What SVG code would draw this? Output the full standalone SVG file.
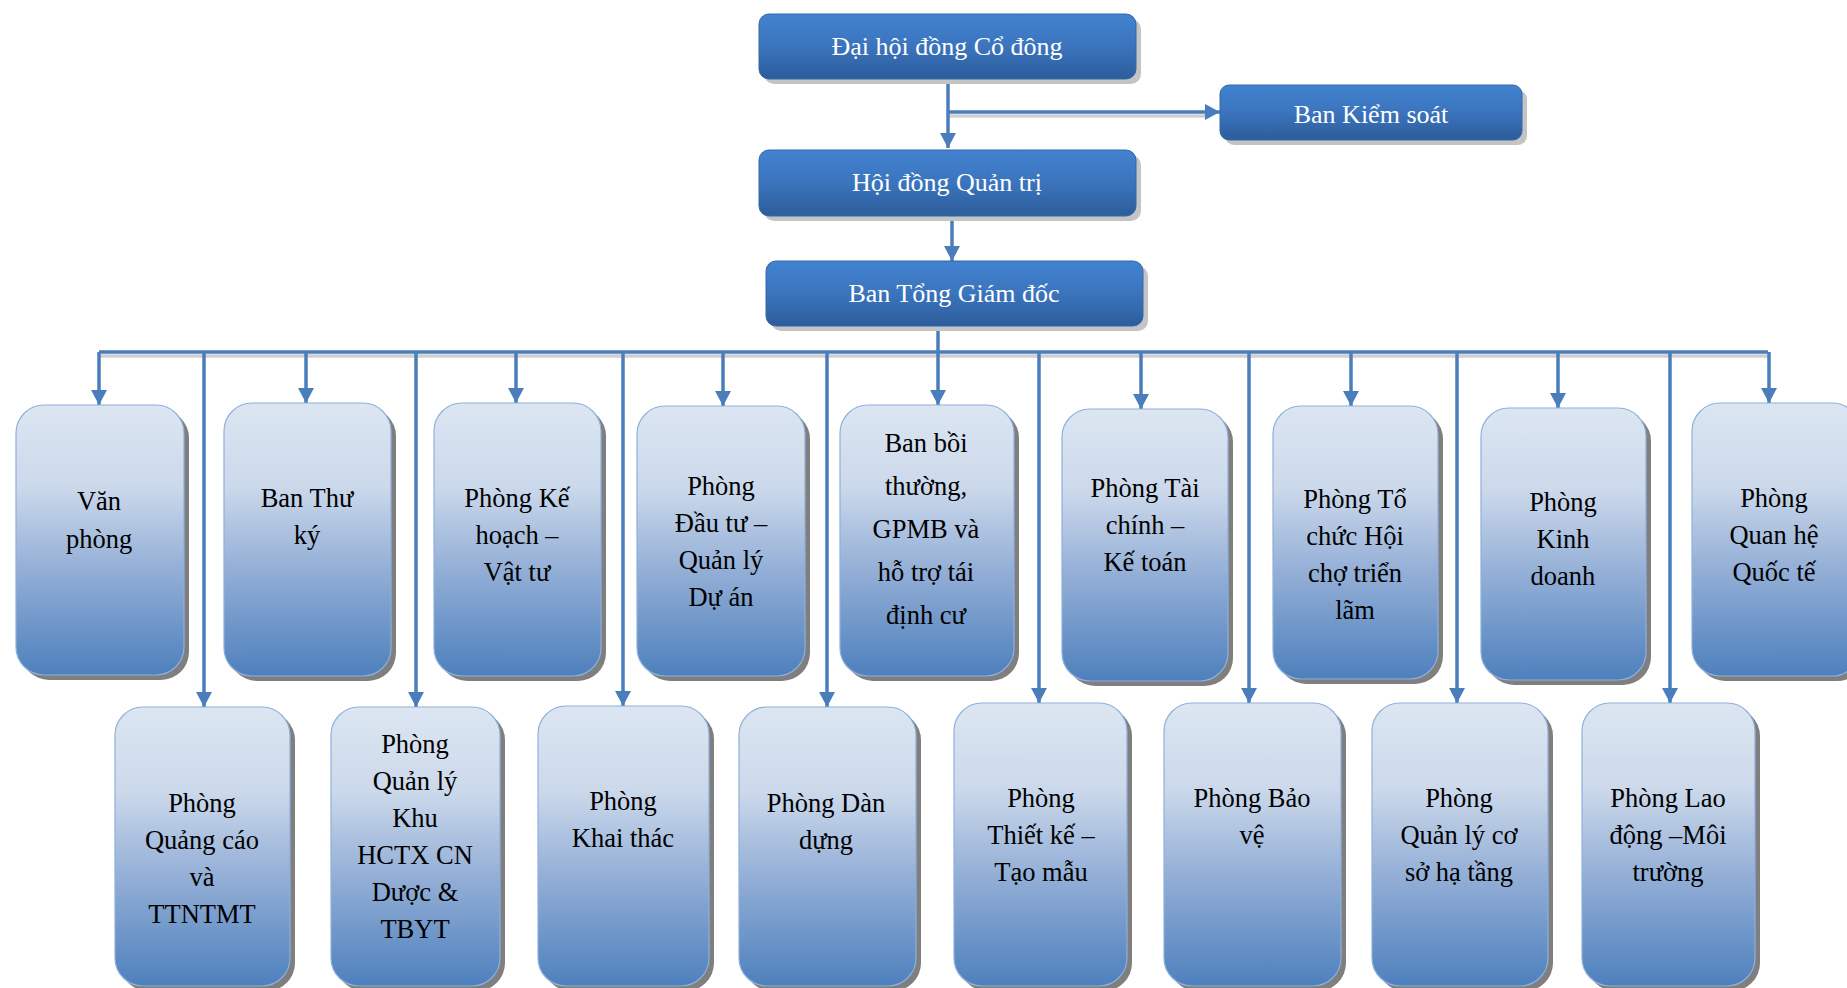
<svg xmlns="http://www.w3.org/2000/svg" width="1847" height="988" viewBox="0 0 1847 988" font-family="Liberation Serif, Times New Roman, DejaVu Serif, serif">
<defs>
<linearGradient id="gTop" x1="0" y1="0" x2="0" y2="1">
<stop offset="0" stop-color="#4282d0"/>
<stop offset="0.5" stop-color="#3b74bd"/>
<stop offset="1" stop-color="#2c5c9b"/>
</linearGradient>
<linearGradient id="gDept" x1="0" y1="0" x2="0" y2="1">
<stop offset="0" stop-color="#dce6f2"/>
<stop offset="0.3" stop-color="#ccd9eb"/>
<stop offset="0.6" stop-color="#95b0d7"/>
<stop offset="1" stop-color="#4e80bd"/>
</linearGradient>
<marker id="arr" markerUnits="userSpaceOnUse" markerWidth="16" markerHeight="16" refX="15" refY="8" orient="auto" viewBox="0 0 16 16">
<path d="M0,0 L15,8 L0,16 Z" fill="#4a7ebb"/>
</marker>
</defs>
<style>
text{font-family:'Liberation Serif','Times New Roman','DejaVu Serif',serif}
.top rect.b{fill:url(#gTop);stroke:#3568a8;stroke-width:1}
.top rect.s{fill:#c4c4c4}
.top text{fill:#ffffff;font-size:26px;text-anchor:middle}
.dept rect.b{fill:url(#gDept);stroke:#8eb0dc;stroke-width:1.2}
.dept rect.s{fill:#7f7f7f}
.dept text{fill:#000000;font-size:26.5px;text-anchor:middle}
.ln{fill:none;stroke:#4a7ebb;stroke-width:3.5}
.sh{fill:none;stroke:#d0d0d0;stroke-width:3.5}
</style>

<g id="connectors-shadow" transform="translate(1,4)">
<path class="sh" d="M948,112 H1205"/>
<path class="sh" d="M99,352 H1768"/>
</g>
<g id="connectors">
<path class="ln" d="M948,79 V148" marker-end="url(#arr)"/>
<path class="ln" d="M948,112 H1220" marker-end="url(#arr)"/>
<path class="ln" d="M952,216 V261" marker-end="url(#arr)"/>
<path class="ln" d="M938,326 V352"/>
<path class="ln" d="M99,352 H1768"/>
<path class="ln" d="M99,352 V405" marker-end="url(#arr)"/>
<path class="ln" d="M306,352 V403" marker-end="url(#arr)"/>
<path class="ln" d="M516,352 V403" marker-end="url(#arr)"/>
<path class="ln" d="M723,352 V406" marker-end="url(#arr)"/>
<path class="ln" d="M938,352 V405" marker-end="url(#arr)"/>
<path class="ln" d="M1141,352 V409" marker-end="url(#arr)"/>
<path class="ln" d="M1351,352 V406" marker-end="url(#arr)"/>
<path class="ln" d="M1558,352 V408" marker-end="url(#arr)"/>
<path class="ln" d="M1769,352 V403" marker-end="url(#arr)"/>
<path class="ln" d="M204,352 V707" marker-end="url(#arr)"/>
<path class="ln" d="M416,352 V707" marker-end="url(#arr)"/>
<path class="ln" d="M623,352 V706" marker-end="url(#arr)"/>
<path class="ln" d="M827,352 V707" marker-end="url(#arr)"/>
<path class="ln" d="M1039,352 V703" marker-end="url(#arr)"/>
<path class="ln" d="M1249,352 V703" marker-end="url(#arr)"/>
<path class="ln" d="M1457,352 V703" marker-end="url(#arr)"/>
<path class="ln" d="M1670,352 V703" marker-end="url(#arr)"/>
</g>

<g id="dhdcd" class="top">
<rect class="s" x="764" y="19" width="377" height="65" rx="10"/>
<rect class="b" x="759" y="14" width="377" height="65" rx="10"/>
<text x="947" y="55">Đại hội đồng Cổ đông</text>
</g>
<g id="bks" class="top">
<rect class="s" x="1225" y="90" width="302" height="55" rx="9"/>
<rect class="b" x="1220" y="85" width="302" height="55" rx="9"/>
<text x="1371" y="123">Ban Kiểm soát</text>
</g>
<g id="hdqt" class="top">
<rect class="s" x="764" y="155" width="377" height="66" rx="10"/>
<rect class="b" x="759" y="150" width="377" height="66" rx="10"/>
<text x="947" y="191">Hội đồng Quản trị</text>
</g>
<g id="btgd" class="top">
<rect class="s" x="771" y="266" width="377" height="65" rx="10"/>
<rect class="b" x="766" y="261" width="377" height="65" rx="10"/>
<text x="954" y="302">Ban Tổng Giám đốc</text>
</g>

<g id="van-phong" class="dept">
<rect class="s" x="21" y="410" width="168" height="270" rx="28"/>
<rect class="b" x="16" y="405" width="168" height="270" rx="28"/>
<text x="99" y="510">Văn</text>
<text x="99" y="548">phòng</text>
</g>
<g id="ban-thu-ky" class="dept">
<rect class="s" x="229" y="408" width="167" height="273" rx="28"/>
<rect class="b" x="224" y="403" width="167" height="273" rx="28"/>
<text x="307" y="507">Ban Thư</text>
<text x="307" y="544">ký</text>
</g>
<g id="ke-hoach" class="dept">
<rect class="s" x="439" y="408" width="167" height="273" rx="28"/>
<rect class="b" x="434" y="403" width="167" height="273" rx="28"/>
<text x="517" y="507">Phòng Kế</text>
<text x="517" y="544">hoạch –</text>
<text x="517" y="581">Vật tư</text>
</g>
<g id="dau-tu" class="dept">
<rect class="s" x="642" y="411" width="168" height="270" rx="28"/>
<rect class="b" x="637" y="406" width="168" height="270" rx="28"/>
<text x="721" y="495">Phòng</text>
<text x="721" y="532">Đầu tư –</text>
<text x="721" y="569">Quản lý</text>
<text x="721" y="606">Dự án</text>
</g>
<g id="ban-boi-thuong" class="dept">
<rect class="s" x="845" y="410" width="174" height="271" rx="28"/>
<rect class="b" x="840" y="405" width="174" height="271" rx="28"/>
<text x="926" y="452">Ban bồi</text>
<text x="926" y="495">thường,</text>
<text x="926" y="538">GPMB và</text>
<text x="926" y="581">hỗ trợ tái</text>
<text x="926" y="624">định cư</text>
</g>
<g id="tai-chinh" class="dept">
<rect class="s" x="1067" y="414" width="166" height="272" rx="28"/>
<rect class="b" x="1062" y="409" width="166" height="272" rx="28"/>
<text x="1145" y="497">Phòng Tài</text>
<text x="1145" y="534">chính –</text>
<text x="1145" y="571">Kế toán</text>
</g>
<g id="to-chuc" class="dept">
<rect class="s" x="1278" y="411" width="165" height="273" rx="28"/>
<rect class="b" x="1273" y="406" width="165" height="273" rx="28"/>
<text x="1355" y="508">Phòng Tổ</text>
<text x="1355" y="545">chức Hội</text>
<text x="1355" y="582">chợ triển</text>
<text x="1355" y="619">lãm</text>
</g>
<g id="kinh-doanh" class="dept">
<rect class="s" x="1486" y="413" width="165" height="272" rx="28"/>
<rect class="b" x="1481" y="408" width="165" height="272" rx="28"/>
<text x="1563" y="511">Phòng</text>
<text x="1563" y="548">Kinh</text>
<text x="1563" y="585">doanh</text>
</g>
<g id="quan-he" class="dept">
<rect class="s" x="1697" y="408" width="168" height="273" rx="28"/>
<rect class="b" x="1692" y="403" width="168" height="273" rx="28"/>
<text x="1774" y="507">Phòng</text>
<text x="1774" y="544">Quan hệ</text>
<text x="1774" y="581">Quốc tế</text>
</g>

<g id="quang-cao" class="dept">
<rect class="s" x="120" y="712" width="175" height="279" rx="28"/>
<rect class="b" x="115" y="707" width="175" height="279" rx="28"/>
<text x="202" y="812">Phòng</text>
<text x="202" y="849">Quảng cáo</text>
<text x="202" y="886">và</text>
<text x="202" y="923">TTNTMT</text>
</g>
<g id="khu-hctx" class="dept">
<rect class="s" x="336" y="712" width="169" height="279" rx="28"/>
<rect class="b" x="331" y="707" width="169" height="279" rx="28"/>
<text x="415" y="753">Phòng</text>
<text x="415" y="790">Quản lý</text>
<text x="415" y="827">Khu</text>
<text x="415" y="864">HCTX CN</text>
<text x="415" y="901">Dược &amp;</text>
<text x="415" y="938">TBYT</text>
</g>
<g id="khai-thac" class="dept">
<rect class="s" x="543" y="711" width="171" height="280" rx="28"/>
<rect class="b" x="538" y="706" width="171" height="280" rx="28"/>
<text x="623" y="810">Phòng</text>
<text x="623" y="847">Khai thác</text>
</g>
<g id="dan-dung" class="dept">
<rect class="s" x="744" y="712" width="177" height="279" rx="28"/>
<rect class="b" x="739" y="707" width="177" height="279" rx="28"/>
<text x="826" y="812">Phòng Dàn</text>
<text x="826" y="849">dựng</text>
</g>
<g id="thiet-ke" class="dept">
<rect class="s" x="959" y="708" width="173" height="283" rx="28"/>
<rect class="b" x="954" y="703" width="173" height="283" rx="28"/>
<text x="1041" y="807">Phòng</text>
<text x="1041" y="844">Thiết kế –</text>
<text x="1041" y="881">Tạo mẫu</text>
</g>
<g id="bao-ve" class="dept">
<rect class="s" x="1169" y="708" width="177" height="283" rx="28"/>
<rect class="b" x="1164" y="703" width="177" height="283" rx="28"/>
<text x="1252" y="807">Phòng Bảo</text>
<text x="1252" y="844">vệ</text>
</g>
<g id="co-so-ha-tang" class="dept">
<rect class="s" x="1377" y="708" width="176" height="283" rx="28"/>
<rect class="b" x="1372" y="703" width="176" height="283" rx="28"/>
<text x="1459" y="807">Phòng</text>
<text x="1459" y="844">Quản lý cơ</text>
<text x="1459" y="881">sở hạ tầng</text>
</g>
<g id="lao-dong" class="dept">
<rect class="s" x="1587" y="708" width="173" height="283" rx="28"/>
<rect class="b" x="1582" y="703" width="173" height="283" rx="28"/>
<text x="1668" y="807">Phòng Lao</text>
<text x="1668" y="844">động –Môi</text>
<text x="1668" y="881">trường</text>
</g>
</svg>
